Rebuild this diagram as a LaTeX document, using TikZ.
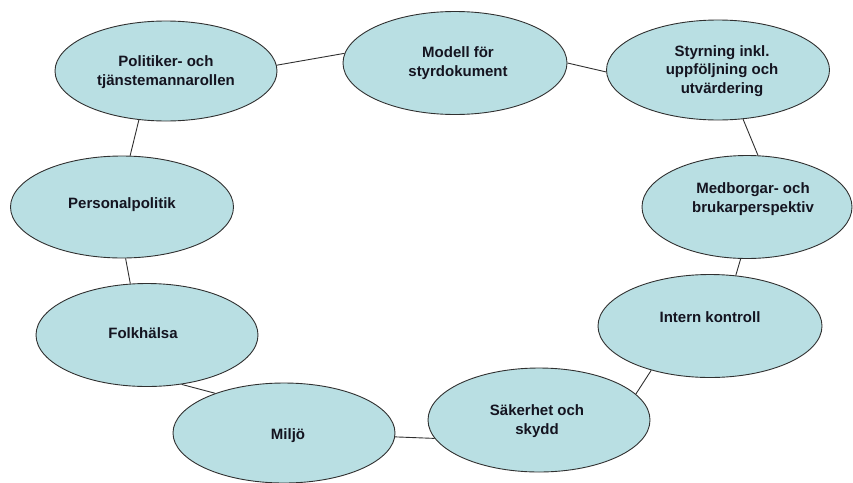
\documentclass[tikz,border=0pt]{standalone}
\usepackage{fontspec}
\setmainfont{Liberation Sans}
\usetikzlibrary{shapes.geometric}
\definecolor{bubfill}{HTML}{B9DFE3}
\definecolor{txtcol}{HTML}{141420}
\definecolor{linecol}{HTML}{303030}
\tikzset{
  bub/.style={ellipse, draw=linecol, line width=0.9pt, fill=bubfill, inner sep=0pt},
  txt/.style={align=center, inner sep=0pt, text=txtcol, font=\fontsize{15}{18.3}\selectfont\bfseries},
  link/.style={draw=linecol, line width=0.9pt}
}
\begin{document}
\begin{tikzpicture}[x=1pt,y=-1pt]
\useasboundingbox (0,0) rectangle (853,482);
% ellipses
\node[bub, minimum width=222pt, minimum height=100pt] (pol) at (166,71) {};
\node[bub, minimum width=224pt, minimum height=103pt] (mod) at (455,63) {};
\node[bub, minimum width=223pt, minimum height=100pt] (sty) at (718,70) {};
\node[bub, minimum width=210pt, minimum height=103pt] (med) at (747,207) {};
\node[bub, minimum width=224pt, minimum height=103pt] (int) at (710,326) {};
\node[bub, minimum width=222pt, minimum height=104pt] (sak) at (539,420) {};
\node[bub, minimum width=222pt, minimum height=100pt] (mil) at (284,433) {};
\node[bub, minimum width=222pt, minimum height=103pt] (fol) at (147,335) {};
\node[bub, minimum width=223pt, minimum height=102pt] (per) at (122,207) {};
% texts
\node[txt] (polt) at (166,72) {Politiker- och\\tjänstemannarollen};
\node[txt] (modt) at (458,63) {Modell för\\styrdokument};
\node[txt] (styt) at (722,71) {Styrning inkl.\\uppföljning och\\utvärdering};
\node[txt] (medt) at (753,199) {Medborgar- och\\brukarperspektiv};
\node[txt] (intt) at (710,317) {Intern kontroll};
\node[txt] (sakt) at (537,421) {Säkerhet och\\skydd};
\node[txt] (milt) at (288,436) {Miljö};
\node[txt] (folt) at (143,333) {Folkhälsa};
\node[txt] (pert) at (122,205) {Personalpolitik};
% connectors (drawn behind by being on background? draw first lines)
\begin{scope}[on background layer/.try]
\end{scope}
\draw[link] (pol.3.6) -- (mod.175);
\draw[link] (mod.-0.5) -- (sty.181);
\draw[link] (sty.-63) -- (med.78);
\draw[link] (med.-97) -- (int.63);
\draw[link] (int.-143.7) -- (sak.15.7);
\draw[link] (sak.-170.4) -- (mil.-2);
\draw[link] (mil.150) -- (fol.-55.5);
\draw[link] (fol.108.8) -- (per.-86.6);
\draw[link] (per.81) -- (pol.-119.7);
\end{tikzpicture}
\end{document}
